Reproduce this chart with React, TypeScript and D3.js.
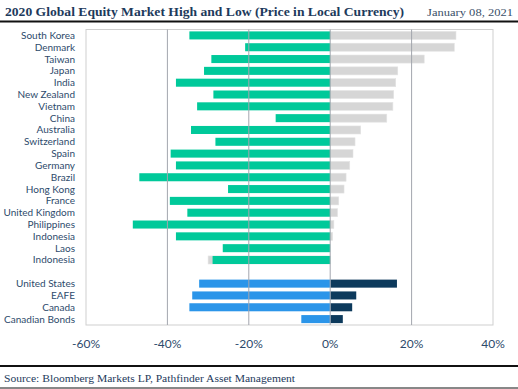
import React from "react";
import * as d3 from "d3";

const categories = [
  "South Korea", "Denmark", "Taiwan", "Japan", "India", "New Zealand", "Vietnam", "China",
  "Australia", "Switzerland", "Spain", "Germany", "Brazil", "Hong Kong", "France",
  "United Kingdom", "Philippines", "Indonesia", "Laos", "Indonesia ",
  "",
  "United States", "EAFE", "Canada", "Canadian Bonds",
];
const lowValues = [
  -34.6, -20.9, -29.2, -31.0, -37.9, -28.7, -32.7, -13.4,
  -34.2, -28.2, -39.2, -37.9, -46.9, -25.1, -39.4,
  -35.1, -48.5, -37.9, -26.4, -28.9,
  NaN,
  -32.2, -33.9, -34.6, -7.1,
];
const highValues = [
  30.9, 30.5, 23.1, 16.6, 16.1, 15.6, 15.4, 13.9,
  7.5, 6.1, 5.6, 4.8, 3.9, 3.4, 2.1,
  1.8, 0.9, 0.6, 0, -30.0,
  NaN,
  16.4, 6.4, 5.4, 3.1,
];
const groups = [
  "c", "c", "c", "c", "c", "c", "c", "c", "c", "c", "c", "c", "c", "c", "c", "c", "c", "c", "c", "c",
  "", "i", "i", "i", "i",
];
const xTicks = [-60, -40, -20, 0, 20, 40];
const gridTicks = [-40, -20, 0, 20];

const title = "2020 Global Equity Market High and Low (Price in Local Currency)";
const dateText = "January 08, 2021";
const sourceText = "Source: Bloomberg Markets LP, Pathfinder Asset Management";

const W = 518;
const H = 389;
const plot = { left: 86, right: 493, top: 29.5, bottom: 325 };

const navyText = "#1d3a5c";
const serif = "'Liberation Serif', 'DejaVu Serif', serif";
const sans = "Lato, 'Open Sans', sans-serif";

export default function App() {
  const x = d3.scaleLinear().domain([-60, 40]).range([plot.left, plot.right]);
  const y = d3
    .scaleBand<number>()
    .domain(d3.range(categories.length))
    .range([plot.top, plot.bottom])
    .paddingInner(0.32)
    .paddingOuter(0.16);
  const bw = y.bandwidth();

  const lowColor = (g: string) => (g === "i" ? "#2b95e9" : "#00c99a");
  const highColor = (g: string) => (g === "i" ? "#0d3a5c" : "#d6d6d6");
  const fmt = (t: number) => (t < 0 ? "-" : "") + Math.abs(t) + "%";

  return (
    <svg
      width={W}
      height={H}
      style={{ position: "absolute", left: 0, top: 0, background: "#fff" }}
    >
      <rect x={0} y={0} width={W} height={H} fill="#fff" />
      {/* header */}
      <text
        x={5}
        y={16}
        fontFamily={serif}
        fontWeight="bold"
        fontSize={13}
        fill={navyText}
        textLength={399}
        lengthAdjust="spacingAndGlyphs"
      >
        {title}
      </text>
      <text
        x={513}
        y={16}
        textAnchor="end"
        fontFamily={serif}
        fontSize={11}
        fill="#3a4f68"
        textLength={86}
        lengthAdjust="spacingAndGlyphs"
      >
        {dateText}
      </text>
      <line x1={0} x2={W} y1={21.5} y2={21.5} stroke="#111" strokeWidth={2.2} />

      {/* plot frame */}
      <rect
        x={plot.left}
        y={plot.top}
        width={plot.right - plot.left}
        height={plot.bottom - plot.top}
        fill="none"
        stroke="#cfcfcf"
        strokeWidth={1}
      />

      {/* high bars (behind) */}
      {categories.map((c, i) =>
        isNaN(highValues[i]) ? null : (
          <rect
            key={"h" + i}
            x={Math.min(x(0), x(highValues[i]))}
            y={y(i)}
            width={Math.abs(x(highValues[i]) - x(0))}
            height={bw}
            fill={highColor(groups[i])}
            stroke={groups[i] === "c" ? "#e4e4e4" : "none"}
            strokeWidth={0.6}
          />
        )
      )}
      {/* low bars */}
      {categories.map((c, i) =>
        isNaN(lowValues[i]) ? null : (
          <rect
            key={"l" + i}
            x={x(lowValues[i])}
            y={y(i)}
            width={x(0) - x(lowValues[i])}
            height={bw}
            fill={lowColor(groups[i])}
          />
        )
      )}

      {/* grid lines */}
      {gridTicks.map((t) => (
        <line
          key={"g" + t}
          x1={x(t)}
          x2={x(t)}
          y1={plot.top}
          y2={plot.bottom}
          stroke="#a3a6ae"
          strokeWidth={1}
        />
      ))}

      {/* category labels */}
      {categories.map((c, i) => (
        <text
          key={"c" + i}
          x={75}
          y={(y(i) as number) + bw / 2}
          dy="0.35em"
          textAnchor="end"
          fontFamily={sans}
          fontSize={10}
          fill="#2d4a6b"
        >
          {c.trim()}
        </text>
      ))}

      {/* x tick labels */}
      {xTicks.map((t) => (
        <text
          key={"t" + t}
          x={x(t)}
          y={348}
          textAnchor="middle"
          fontFamily={sans}
          fontSize={12}
          fill="#2d4a6b"
        >
          {fmt(t)}
        </text>
      ))}

      {/* footer */}
      <line x1={0} x2={W} y1={366} y2={366} stroke="#111" strokeWidth={2} />
      <text
        x={4}
        y={382}
        fontFamily={serif}
        fontSize={11}
        fill={navyText}
        textLength={291}
        lengthAdjust="spacingAndGlyphs"
      >
        {sourceText}
      </text>
      <line x1={0} x2={W} y1={388} y2={388} stroke="#111" strokeWidth={1} />
    </svg>
  );
}
